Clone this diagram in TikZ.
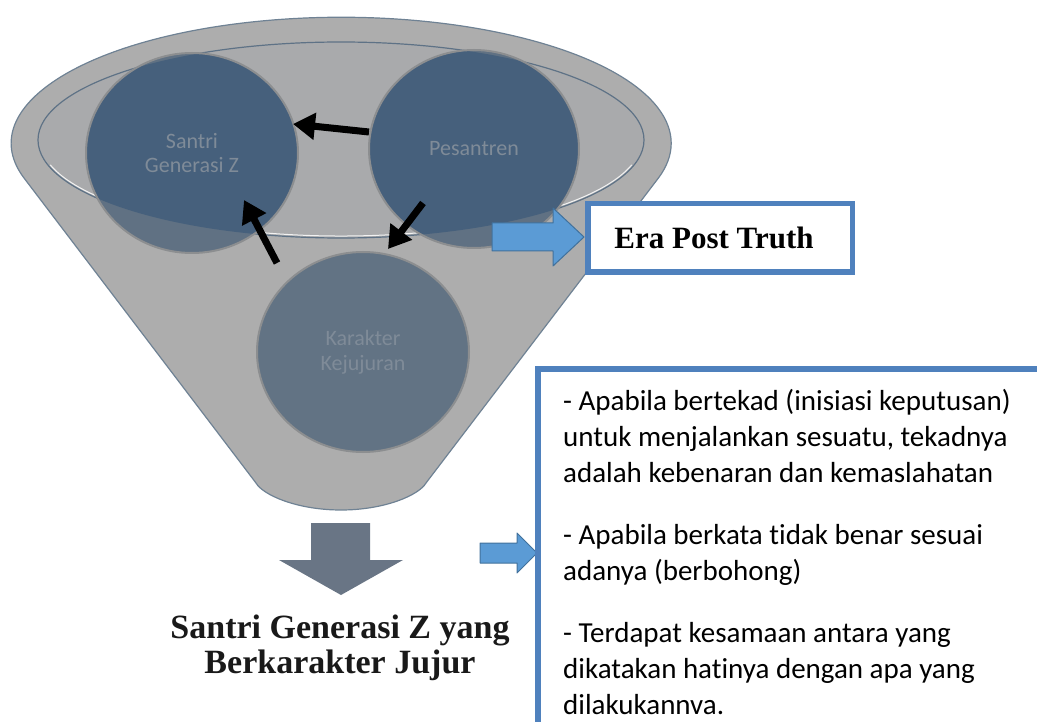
\documentclass[tikz,border=0pt]{standalone}
\usepackage{fontspec}
\setmainfont{Liberation Serif}
\newfontfamily\carlito[Ligatures={NoCommon}]{Carlito}
\usetikzlibrary{arrows.meta,shapes.geometric}
\definecolor{fgray}{HTML}{ADADAD}
\definecolor{fline}{HTML}{6F8294}
\definecolor{igray}{HTML}{A9AAAC}
\definecolor{iline}{HTML}{5E7286}
\definecolor{cdark}{HTML}{46607C}
\definecolor{clight}{HTML}{607183}
\definecolor{ckar}{HTML}{627384}
\definecolor{cborder}{HTML}{8C8E90}
\definecolor{ctext}{HTML}{7F8B98}
\definecolor{bfill}{HTML}{5B9BD5}
\definecolor{bline}{HTML}{41719C}
\definecolor{boxc}{HTML}{4F81BD}
\definecolor{garrow}{HTML}{697585}
\begin{document}
\begin{tikzpicture}[x=1pt,y=-1pt,
  circnode/.style={ellipse, draw=cborder, line width=2pt, minimum width=212pt, minimum height=200pt,
     inner sep=0pt, align=center, text=ctext, font=\carlito\fontsize{22}{24.5}\selectfont},
  blk/.style={line width=7pt, -{Triangle[length=22pt,width=26pt]}},
  bluearrow/.style={fill=bfill, draw=bline, line width=1pt, line join=round},
  framebox/.style={draw=boxc, line width=5.5pt, fill=white}]
\useasboundingbox (0,0) rectangle (1037,722);
\clip (0,0) rectangle (1037,722);

% funnel body
\path[fill=fgray, draw=fline, line width=1.2pt]
  (24,178) arc[start angle=164, end angle=376, x radius=330, y radius=126]
  -- (426,483) .. controls (419,495) and (385,510) .. (341,510)
  .. controls (297,510) and (263,495) .. (256,483) -- cycle;
% inner rim
\path[fill=igray, draw=iline, line width=1.2pt] (341,140) ellipse[x radius=303, y radius=98];
\draw[white, line width=1pt, opacity=0.85] (341,140) ++(15:301 and 96)
  arc[start angle=15, end angle=165, x radius=301, y radius=96];

% circles: lighter outside the rim, darker inside
\fill[clight] (192,153) ellipse[x radius=106, y radius=100];
\fill[clight] (474,149) ellipse[x radius=105, y radius=99];
\begin{scope}
  \clip (341,140) ellipse[x radius=303, y radius=98];
  \fill[cdark] (192,153) ellipse[x radius=106, y radius=100];
  \fill[cdark] (474,149) ellipse[x radius=105, y radius=99];
\end{scope}
\fill[ckar] (363,352) ellipse[x radius=106, y radius=100];

\node[circnode] (santri) at (192,153) {Santri\\Generasi Z};
\node[circnode, minimum width=210pt, minimum height=198pt] (pesantren) at (474,149) {Pesantren};
\node[circnode] (karakter) at (363,352) {Karakter\\Kejujuran};

% black arrows
\coordinate (p1) at (369,132);
\coordinate (s1) at (293,124);
\coordinate (p2) at (423,203);
\coordinate (k2) at (388,249);
\coordinate (k3) at (277,263);
\coordinate (s3) at (244,200);
\draw[blk] (p1) -- (s1);
\draw[blk] (p2) -- (k2);
\draw[blk] (k3) -- (s3);

% blue block arrow to Era Post Truth
\path[bluearrow] (492,223) -- (553,223) -- (553,208) -- (584,237) -- (553,266) -- (553,251) -- (492,251) -- cycle;
\node[framebox, minimum width=264.5pt, minimum height=68.5pt, inner sep=0pt] (era) at (720,238) {};
\node[font=\fontsize{31}{34}\selectfont\bfseries, inner sep=0pt] (eratext) at (714,238) {Era Post Truth};

% small blue arrow to criteria box
\path[bluearrow] (480,543) -- (517,543) -- (517,533) -- (537,553) -- (517,573) -- (517,563) -- (480,563) -- cycle;
\path[draw=boxc, line width=6pt, fill=white] (538,369) rectangle (1060,760);
\node[anchor=base west, align=left, inner sep=0pt, font=\carlito\fontsize{29}{36}\selectfont] (crit) at (563,714)
{- Apabila bertekad (inisiasi keputusan)\\untuk menjalankan sesuatu, tekadnya\\adalah kebenaran dan kemaslahatan\\[26pt]
- Apabila berkata tidak benar sesuai\\adanya (berbohong)\\[26pt]
- Terdapat kesamaan antara yang\\dikatakan hatinya dengan apa yang\\dilakukannva.};

% gray down arrow and result
\path[fill=garrow] (311,523) -- (370,523) -- (370,560) -- (403,560) -- (341,595) -- (279,560) -- (311,560) -- cycle;
\node[anchor=base, align=center, inner sep=0pt, text=black!90, font=\fontsize{34}{35}\selectfont\bfseries] (result) at (340,673)
{Santri Generasi Z yang\\Berkarakter Jujur};
\end{tikzpicture}
\end{document}
